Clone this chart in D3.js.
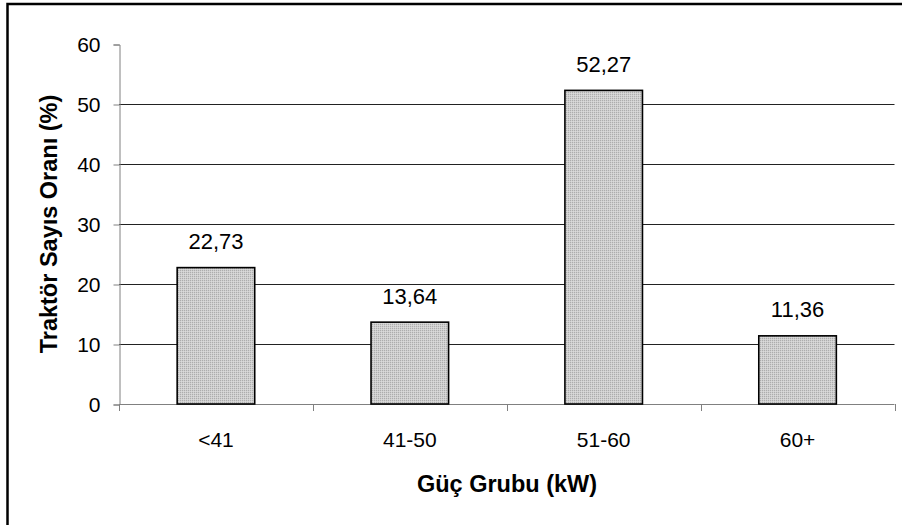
<!DOCTYPE html>
<html><head><meta charset="utf-8">
<script src="https://cdn.jsdelivr.net/npm/d3@7"></script>
<style>html,body{margin:0;padding:0;background:#fff;overflow:hidden}</style>
</head><body>
<svg id="c" width="902" height="525"></svg>
<script>
const categories = ["<41", "41-50", "51-60", "60+"];
const values = [22.73, 13.64, 52.27, 11.36];
const valueLabels = ["22,73", "13,64", "52,27", "11,36"];
const yTicks = [0, 10, 20, 30, 40, 50, 60];
const xTitle = "Güç Grubu (kW)";
const yTitle = "Traktör Sayıs Oranı (%)";

const svg = d3.select("#c");
const font = "Liberation Sans, Arial, sans-serif";

const defs = svg.append("defs");
const pat = defs.append("pattern").attr("id","hatch").attr("patternUnits","userSpaceOnUse")
  .attr("width",2).attr("height",2);
pat.append("rect").attr("width",2).attr("height",2).attr("fill","#cfcfcf");
pat.append("rect").attr("x",0).attr("y",0).attr("width",1).attr("height",1).attr("fill","#adadad");
pat.append("rect").attr("x",1).attr("y",1).attr("width",1).attr("height",1).attr("fill","#dadada");

// outer frame (clipped on right/bottom)
svg.append("rect").attr("x",7.5).attr("y",4).attr("width",1000).attr("height",1000)
  .attr("fill","none").attr("stroke","#000").attr("stroke-width",2.5);

const x = d3.scaleBand().domain(categories).range([119, 894.5]).paddingInner(0.6).paddingOuter(0.3);
const y = d3.scaleLinear().domain([0, 60]).range([404, 44]);

// gridlines
svg.append("g").selectAll("line").data(yTicks.filter(t => t > 0 && t < 60)).join("line")
  .attr("x1",119).attr("x2",894.5).attr("y1",d=>Math.round(y(d))+0.5).attr("y2",d=>Math.round(y(d))+0.5)
  .attr("stroke","#222").attr("stroke-width",1);

// y axis
const yAxis = svg.append("g").attr("transform","translate(119.5,0.5)")
  .call(d3.axisLeft(y).tickValues(yTicks).tickSize(6).tickPadding(13).tickFormat(d3.format("d")));
yAxis.select(".domain").attr("stroke","#808080");
yAxis.selectAll(".tick line").attr("stroke","#808080");
yAxis.selectAll(".tick text").attr("font-family",font).attr("font-size",21).attr("fill","#000");

// x axis
const step = x.step();
const xAxisG = svg.append("g");
xAxisG.append("line").attr("x1",119).attr("x2",894.5).attr("y1",404.5).attr("y2",404.5).attr("stroke","#808080");
xAxisG.selectAll("line.tk").data(d3.range(categories.length+1)).join("line").attr("class","tk")
  .attr("x1",i=>Math.round(119+i*step)+0.5).attr("x2",i=>Math.round(119+i*step)+0.5)
  .attr("y1",404).attr("y2",411).attr("stroke","#808080");
xAxisG.selectAll("text").data(categories).join("text")
  .attr("x",d=>x(d)+x.bandwidth()/2).attr("y",447).attr("text-anchor","middle")
  .attr("font-family",font).attr("font-size",21).text(d=>d);

// bars
svg.append("g").selectAll("rect").data(values).join("rect")
  .attr("x",(d,i)=>x(categories[i])).attr("width",x.bandwidth())
  .attr("y",d=>y(d)).attr("height",d=>y(0)-y(d))
  .attr("fill","url(#hatch)").attr("stroke","#000").attr("stroke-width",1.6);

// value labels
svg.append("g").selectAll("text").data(values).join("text")
  .attr("x",(d,i)=>x(categories[i])+x.bandwidth()/2).attr("y",d=>y(d)-18.5)
  .attr("text-anchor","middle").attr("font-family",font).attr("font-size",22)
  .text((d,i)=>valueLabels[i]);

// titles
svg.append("text").attr("x",507).attr("y",492).attr("text-anchor","middle")
  .attr("font-family",font).attr("font-weight","bold").attr("font-size",23.5).text(xTitle);
svg.append("text").attr("transform","translate(57,224) rotate(-90)").attr("text-anchor","middle")
  .attr("font-family",font).attr("font-weight","bold").attr("font-size",23.5).text(yTitle);
</script>
</body></html>
